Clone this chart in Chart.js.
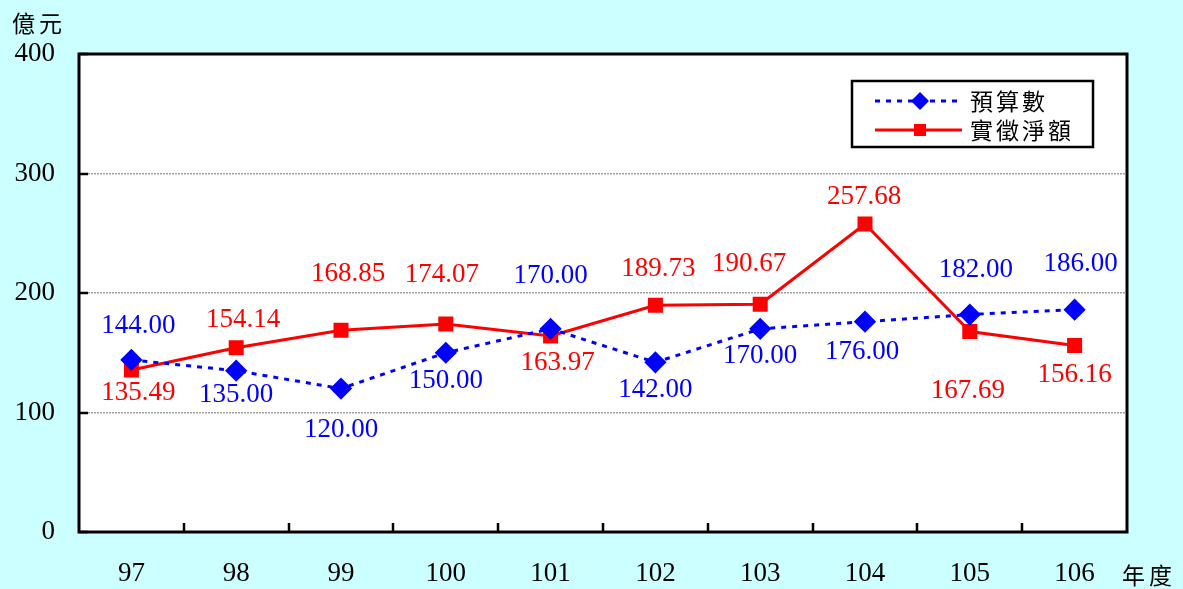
<!DOCTYPE html>
<html><head><meta charset="utf-8">
<script src="https://cdn.jsdelivr.net/npm/chart.js@4/dist/chart.umd.min.js"></script>
<style>html,body{margin:0;padding:0;background:#CCFFFF;}#wrap{width:1183px;height:589px;position:relative;}</style>
</head><body><div id="wrap"><canvas id="c" width="1183" height="589"></canvas></div>
<script>
const years = ['97','98','99','100','101','102','103','104','105','106'];
const budget = [144.00,135.00,120.00,150.00,170.00,142.00,170.00,176.00,182.00,186.00];
const actual = [135.49,154.14,168.85,174.07,163.97,189.73,190.67,257.68,167.69,156.16];
const seriesNames = ['預算數','實徵淨額'];
const yTicks = [0,100,200,300,400];
const yUnit = '億元';
const xUnit = '年度';

const NUM_FONT = '27px "Liberation Serif", "Times New Roman", serif';
const CJK_FONT = '23px "Noto Sans CJK TC", "Noto Sans CJK SC", sans-serif';

const labelOffsets = [
  {dx:[7,0,0,0,0,0,0,-3,6,6], dy:[-34,24,41,28,-53,28,27,30,-45,-46]},
  {dx:[7,7,7,-4,7,3,-11,-1,-2,0], dy:[23,-28,-56,-49,27,-36,-40,-27,59,30]}
];

const bgPlugin = {
  id:'bg',
  beforeDraw(chart){
    const {ctx, chartArea:a} = chart;
    ctx.save();
    ctx.fillStyle = '#CCFFFF';
    ctx.fillRect(0,0,chart.width,chart.height);
    ctx.fillStyle = '#FFFFFF';
    ctx.fillRect(a.left,a.top,a.right-a.left,a.bottom-a.top);
    ctx.restore();
  },
  afterDatasetsDraw(chart){
    const {ctx, chartArea:a, scales} = chart;
    ctx.save();
    ctx.strokeStyle = '#000'; ctx.lineWidth = 2.5;
    const xs = scales.x, ys = scales.y;
    for(let i=1;i<years.length;i++){
      const px = Math.round((xs.getPixelForValue(i-1)+xs.getPixelForValue(i))/2);
      ctx.beginPath(); ctx.moveTo(px,a.bottom); ctx.lineTo(px,a.bottom-9); ctx.stroke();
    }
    yTicks.forEach(v=>{
      const py = Math.round(ys.getPixelForValue(v));
      ctx.beginPath(); ctx.moveTo(a.left,py); ctx.lineTo(a.left+9,py); ctx.stroke();
    });
    ctx.lineWidth = 3;
    ctx.strokeRect(a.left,a.top,a.right-a.left,a.bottom-a.top);
    ctx.font = NUM_FONT; ctx.textAlign='center'; ctx.textBaseline='middle';
    chart.data.datasets.forEach((ds,di)=>{
      const meta = chart.getDatasetMeta(di);
      ctx.fillStyle = ds.borderColor;
      meta.data.forEach((pt,i)=>{
        ctx.fillText(ds.data[i].toFixed(2), pt.x+labelOffsets[di].dx[i], pt.y+labelOffsets[di].dy[i]);
      });
    });
    const lx=852, ly=81, lw=241, lh=66;
    ctx.fillStyle='#fff'; ctx.fillRect(lx,ly,lw,lh);
    ctx.strokeStyle='#000'; ctx.lineWidth=2.5; ctx.strokeRect(lx,ly,lw,lh);
    chart.data.datasets.forEach((ds,di)=>{
      const y = ly+20+di*29;
      ctx.save();
      ctx.strokeStyle=ds.borderColor; ctx.lineWidth=3;
      ctx.setLineDash(ds.borderDash||[]);
      ctx.beginPath(); ctx.moveTo(875,y); ctx.lineTo(962,y); ctx.stroke();
      ctx.restore();
      ctx.fillStyle=ds.borderColor;
      if(ds.pointStyle==='rectRot'){
        ctx.beginPath(); ctx.moveTo(920,y-9); ctx.lineTo(929,y); ctx.lineTo(920,y+9); ctx.lineTo(911,y); ctx.closePath(); ctx.fill();
      } else {
        ctx.fillRect(914,y-6,12,12);
      }
      ctx.fillStyle='#000'; ctx.font=CJK_FONT; ctx.textAlign='left'; ctx.textBaseline='middle';
      ctx.letterSpacing='3px';
      ctx.fillText(ds.label, 970, y);
      ctx.letterSpacing='0px';
    });
    ctx.fillStyle='#000'; ctx.font=CJK_FONT; ctx.textAlign='left'; ctx.textBaseline='middle';
    ctx.letterSpacing='4px';
    ctx.fillText(yUnit, 12, 23);
    ctx.fillText(xUnit, 1122, 575);
    ctx.letterSpacing='0px';
    ctx.restore();
  }
};

new Chart(document.getElementById('c'), {
  type:'line',
  data:{
    labels: years,
    datasets:[
      {label:seriesNames[0], data:budget, borderColor:'#0000FF', backgroundColor:'#0000FF',
       borderWidth:3, borderDash:[5,6], pointStyle:'rectRot', pointRadius:9, pointHoverRadius:9, tension:0, order:1},
      {label:seriesNames[1], data:actual, borderColor:'#FF0000', backgroundColor:'#FF0000',
       borderWidth:3, pointStyle:'rect', pointRadius:8.5, pointHoverRadius:8.5, tension:0, order:2}
    ]
  },
  options:{
    responsive:false, animation:false,
    layout:{padding:{left:0, top:54, right:56, bottom:0}},
    plugins:{legend:{display:false}, tooltip:{enabled:false}},
    scales:{
      x:{
        offset:true,
        grid:{display:false},
        border:{display:false},
        ticks:{font:{family:'"Liberation Serif", serif', size:27}, color:'#000', padding:18, maxRotation:0},
        afterFit(s){ s.height = 57; }
      },
      y:{
        min:0, max:400,
        afterBuildTicks(s){ s.ticks = yTicks.map(v=>({value:v})); },
        grid:{drawTicks:false, color:(c)=> (c.tick && (c.tick.value===0||c.tick.value===400)) ? 'rgba(0,0,0,0)' : '#a0a0a0', lineWidth:1.5},
        border:{display:false, dash:[2,1]},
        ticks:{font:{family:'"Liberation Serif", serif', size:27}, color:'#000', padding:24},
        afterFit(s){ s.width = 79; }
      }
    }
  },
  plugins:[bgPlugin]
});
</script></body></html>
